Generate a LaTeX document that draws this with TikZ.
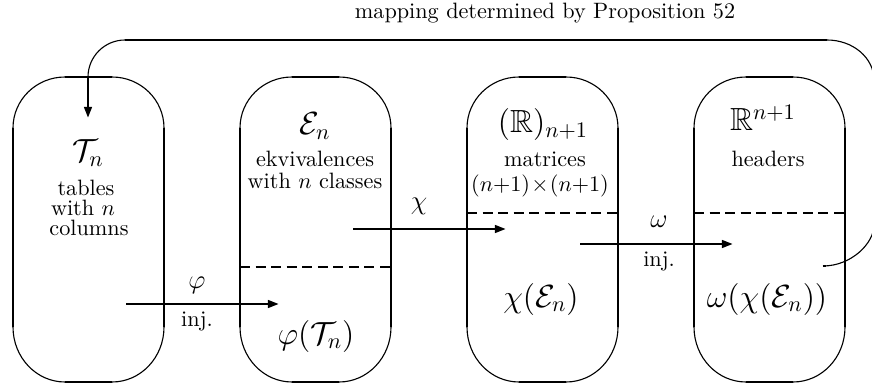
\documentclass[tikz,border=0pt]{standalone}
\usepackage{amssymb}
\usetikzlibrary{arrows.meta}
\tikzset{
  thickline/.style={line width=1.2pt},
  thinline/.style={line width=0.5pt},
  dashline/.style={line width=1.2pt, dash pattern=on 4.5pt off 2.5pt},
  maparrow/.style={line width=1.2pt, -{Triangle[length=5pt,width=3.4pt]}},
  lbl/.style={inner sep=0pt, font=\normalsize},
  big/.style={inner sep=0pt, font=\Large},
  mid/.style={inner sep=0pt, font=\large},
}
\begin{document}
\begin{tikzpicture}[x=0.45pt,y=-0.45pt]
\useasboundingbox (0,0) rectangle (872,385);
% capsules
\foreach \L in {13,240,467,694} {
  \pgfmathsetmacro\R{\L+151}
  \draw[thickline] (\L,128) -- (\L,327);
  \draw[thickline] (\R,128) -- (\R,327);
  \draw[thickline] (\L+52,77) -- (\R-52,77);
  \draw[thickline] (\L+52,382) -- (\R-52,382);
  \draw[thinline] (\L,128) .. controls (\L,99.8) and (\L+23.3,77) .. (\L+52,77);
  \draw[thinline] (\R-52,77) .. controls (\R-23.3,77) and (\R,99.8) .. (\R,128);
  \draw[thinline] (\L,327) .. controls (\L,357.4) and (\L+23.3,382) .. (\L+52,382);
  \draw[thinline] (\R,327) .. controls (\R,357.4) and (\R-23.3,382) .. (\R-52,382);
}
% dashed separators
\draw[dashline] (240,267) -- (391,267);
\draw[dashline] (467,213) -- (618,213);
\draw[dashline] (694,213) -- (845,213);

% texts
\node[lbl] (title) at (545,13) {mapping determined by Proposition 52};
\node[big] (Tn) at (88,153) {$\mathcal{T}_n$};
\node[lbl,anchor=base] (tab1) at (86,196) {tables};
\node[lbl,anchor=base] (tab2) at (83,216) {with $n$};
\node[lbl,anchor=base] (tab3) at (89,236) {columns};
\node[big] (En) at (315,126) {$\mathcal{E}_n$};
\node[lbl,anchor=base] (ekv1) at (315,167) {ekvivalences};
\node[lbl,anchor=base] (ekv2) at (315,189) {with $n$ classes};
\node[big] (Rm) at (543,125) {$(\mathbb{R})_{n+1}$};
\node[lbl,anchor=base] (mat1) at (545,167) {matrices};
\node[lbl,anchor=base] (mat2) at (540,192) {$(n{+}1)\!\times\!(n{+}1)$};
\node[big,anchor=base] (Rn) at (763,131) {$\mathbb{R}^{n+1}$};
\node[lbl,anchor=base] (hdr) at (768,167) {headers};
\node[big] (phiT) at (316,336) {$\varphi(\mathcal{T}_n)$};
\node[big] (chiE) at (541,299) {$\chi(\mathcal{E}_n)$};
\node[big] (omE) at (767,299) {$\omega(\chi(\mathcal{E}_n))$};

% arrows
\coordinate (phiS) at (126,304);
\coordinate (phiE) at (279,304);
\draw[maparrow] (phiS) -- (phiE);
\node[mid] (phiL) at (197,285) {$\varphi$};
\node[lbl,anchor=base] (inj1) at (197,326) {inj.};

\coordinate (chiS) at (353,229);
\coordinate (chiE2) at (506,229);
\draw[maparrow] (chiS) -- (chiE2);
\node[mid] (chiL) at (419,206) {$\chi$};

\coordinate (omS) at (580,244);
\coordinate (omE2) at (733,244);
\draw[maparrow] (omS) -- (omE2);
\node[mid] (omL) at (659,222) {$\omega$};
\node[lbl,anchor=base] (inj2) at (659,266) {inj.};

% loop connector
\coordinate (loopS) at (823,266);
\coordinate (lr1) at (874,225);
\coordinate (lr2) at (874,80);
\coordinate (lt1) at (827,40);
\coordinate (lt2) at (125,40);
\coordinate (ll1) at (88,77);
\coordinate (loopE) at (88,118);
\draw[thickline] (loopS) -- ++(3,0);
\draw[thinline] (loopS) .. controls (851.2,266) and (874,243.4) .. (lr1);
\draw[thickline] (lr1) -- (lr2);
\draw[thinline] (lr2) .. controls (874,57.9) and (853,40) .. (lt1);
\draw[thickline] (lt1) -- (lt2);
\draw[thinline] (lt2) .. controls (104.6,40) and (88,56.6) .. (ll1);
\draw[maparrow] (ll1) -- (loopE);
\end{tikzpicture}
\end{document}
